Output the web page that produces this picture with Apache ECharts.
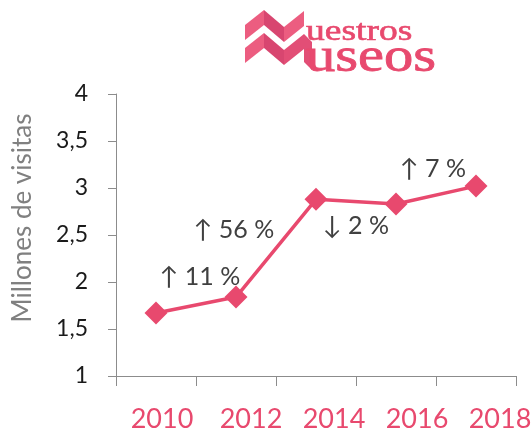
<!DOCTYPE html>
<html>
<head>
<meta charset="utf-8">
<script src="https://cdn.jsdelivr.net/npm/echarts@6/dist/echarts.min.js"></script>
<style>
  html, body { margin: 0; padding: 0; background: #fff; }
  #chart { width: 532px; height: 428px; }
</style>
</head>
<body>
<div id="chart"></div>
<script>
// data
var years = ['2010', '2012', '2014', '2016', '2018'];
var visitors = [1.67, 1.84, 2.88, 2.83, 3.02];   // millones de visitas
var changes = ['', '↑ 11 %', '↑ 56 %', '↓ 2 %', '↑ 7 %'];

var pink = '#e8496e';

// where each change label sits relative to its point
var changeOffsets = [[0, 0], [-36, -20], [-82, 31], [-40, 22], [-43, -17]];
// the year labels drift right in the original
var yearShift = [6, 15, 18, 21, 24];

function init() {
    var chart = echarts.init(document.getElementById('chart'));

    var points = visitors.map(function (v, i) {
        return {
            value: v,
            label: {
                show: changes[i] !== '',
                formatter: changes[i],
                position: 'inside',
                offset: changeOffsets[i]
            }
        };
    });

    var yearLabels = years.map(function (y, i) {
        return { value: y, textStyle: { padding: [0, 0, 0, yearShift[i] * 2] } };
    });

    var option = {
        animation: false,
        grid: { left: 116, right: 16, top: 94, bottom: 52, outerBoundsMode: 'none' },
        xAxis: {
            type: 'category',
            data: yearLabels,
            boundaryGap: true,
            axisLine: { lineStyle: { color: '#8c8c8c', width: 1 } },
            axisTick: { show: true, interval: 0, length: 10, lineStyle: { color: '#8c8c8c' } },
            axisLabel: {
                interval: 0, hideOverlap: false,
                color: pink, fontFamily: 'Lato', fontSize: 27, margin: 30
            },
            splitLine: { show: false }
        },
        yAxis: {
            type: 'value',
            min: 1, max: 4, interval: 0.5,
            name: 'Millones de visitas',
            nameLocation: 'middle',
            nameGap: 80,
            nameTextStyle: {
                color: '#808080', fontFamily: 'Lato', fontSize: 26,
                padding: [0, 0, 0, 34]
            },
            axisLine: { show: true, lineStyle: { color: '#8c8c8c', width: 1 } },
            axisTick: { show: true, length: 8, lineStyle: { color: '#8c8c8c' } },
            axisLabel: {
                color: '#1a1a1a', fontFamily: 'Lato', fontSize: 23, margin: 28,
                formatter: function (v) { return String(v).replace('.', ','); }
            },
            splitLine: { show: false }
        },
        series: [{
            type: 'line',
            data: points,
            symbol: 'diamond',
            symbolSize: 23,
            lineStyle: { color: pink, width: 3.5 },
            itemStyle: { color: pink },
            label: {
                color: '#404040', fontFamily: 'Lato', fontSize: 25,
                align: 'center', verticalAlign: 'middle'
            }
        }],
        graphic: [
            // logo chevrons
            { type: 'polygon', shape: { points: [[245, 25], [264, 10], [264, 25], [245, 40]] }, style: { fill: '#ec5d80' } },
            { type: 'polygon', shape: { points: [[264, 10], [284, 27], [284, 42], [264, 25]] }, style: { fill: '#d84670' } },
            { type: 'polygon', shape: { points: [[284, 27], [304, 11], [304, 26], [284, 42]] }, style: { fill: '#ec5d80' } },
            { type: 'polygon', shape: { points: [[245, 48], [264, 33], [264, 48], [245, 63]] }, style: { fill: '#ec5d80' } },
            { type: 'polygon', shape: { points: [[264, 33], [284, 50], [284, 65], [264, 48]] }, style: { fill: '#d84670' } },
            { type: 'polygon', shape: { points: [[284, 50], [304, 34], [312, 42], [312, 70], [304, 62], [304, 49], [284, 65]] }, style: { fill: '#e24e76' } },
            {
                type: 'text', x: 306, y: 17, scaleX: 1.25,
                style: { text: 'uestros', font: '30px "Liberation Serif"', fill: '#e8496e', verticalAlign: 'top', stroke: '#e8496e', lineWidth: 0.6 }
            },
            {
                type: 'text', x: 306, y: 34, scaleX: 1.22,
                style: { text: 'useos', font: '48px "Liberation Serif"', fill: '#e8496e', verticalAlign: 'top', stroke: '#e8496e', lineWidth: 0.8 }
            }
        ]
    };

    chart.setOption(option);
}

window.addEventListener('load', init, false);
</script>
</body>
</html>
